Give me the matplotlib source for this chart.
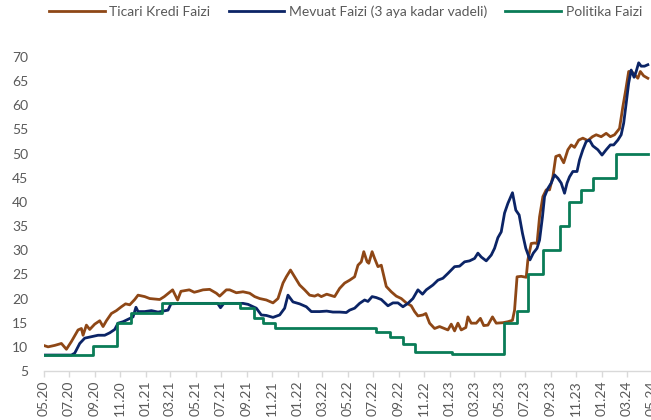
import matplotlib
matplotlib.use("Agg")
import matplotlib.pyplot as plt
import matplotlib.dates as mdates
import pandas as pd

plt.rcParams["font.family"] = ["Lato", "DejaVu Sans"]

# Ticari Kredi Faizi (brown)
kredi_dates = [
    "2020-05-01", "2020-05-12", "2020-05-28", "2020-06-13", "2020-06-25", "2020-07-07",
    "2020-07-23", "2020-07-31", "2020-08-04", "2020-08-12", "2020-08-20", "2020-09-01",
    "2020-09-13", "2020-09-21", "2020-09-29", "2020-10-11", "2020-10-23", "2020-11-04",
    "2020-11-14", "2020-11-24", "2020-12-06", "2020-12-14", "2020-12-30", "2021-01-11",
    "2021-02-04", "2021-02-15", "2021-03-07", "2021-03-19", "2021-03-27", "2021-04-16",
    "2021-04-28", "2021-05-07", "2021-05-19", "2021-06-04", "2021-06-20", "2021-06-28",
    "2021-07-14", "2021-07-22", "2021-08-07", "2021-08-23", "2021-09-08", "2021-09-20",
    "2021-10-02", "2021-10-18", "2021-11-03", "2021-11-15", "2021-11-27", "2021-12-05",
    "2021-12-15", "2021-12-25", "2022-01-06", "2022-01-18", "2022-01-30", "2022-02-11",
    "2022-02-19", "2022-02-27", "2022-03-12", "2022-03-31", "2022-04-12", "2022-04-24",
    "2022-05-06", "2022-05-18", "2022-05-26", "2022-06-03", "2022-06-09", "2022-06-17",
    "2022-06-21", "2022-06-29", "2022-07-05", "2022-07-13", "2022-07-21", "2022-08-02",
    "2022-08-14", "2022-08-26", "2022-09-07", "2022-09-19", "2022-10-01", "2022-10-09",
    "2022-10-17", "2022-10-29", "2022-11-05", "2022-11-14", "2022-11-26", "2022-12-08",
    "2022-12-28", "2023-01-05", "2023-01-13", "2023-01-21", "2023-01-29", "2023-02-09",
    "2023-02-14", "2023-02-22", "2023-03-06", "2023-03-16", "2023-03-24", "2023-04-03",
    "2023-04-14", "2023-04-23", "2023-05-09", "2023-05-21", "2023-06-01", "2023-06-06",
    "2023-06-12", "2023-06-22", "2023-07-04", "2023-07-08", "2023-07-16", "2023-07-24",
    "2023-07-30", "2023-08-05", "2023-08-13", "2023-08-21", "2023-08-29", "2023-09-06",
    "2023-09-13", "2023-09-22", "2023-10-02", "2023-10-12", "2023-10-20", "2023-10-28",
    "2023-11-07", "2023-11-17", "2023-11-29", "2023-12-10", "2023-12-19", "2023-12-31",
    "2024-01-12", "2024-01-22", "2024-02-01", "2024-02-13", "2024-02-21", "2024-02-28",
    "2024-03-06", "2024-03-13", "2024-03-20", "2024-03-28", "2024-04-03", "2024-04-11",
    "2024-04-21",
]
kredi = [
    10.3, 10.0, 10.3, 10.7, 9.5, 11.1,
    13.5, 13.8, 12.4, 14.5, 13.6, 14.7,
    15.4, 14.2, 15.4, 16.9, 17.5, 18.3,
    18.9, 18.7, 19.8, 20.7, 20.4, 20.0,
    19.8, 20.4, 21.8, 19.7, 21.5, 21.8,
    21.3, 21.5, 21.8, 21.9, 21.1, 20.5,
    21.8, 21.8, 21.2, 21.4, 21.1, 20.4,
    20.0, 19.7, 19.1, 20.0, 23.2, 24.5,
    25.9, 24.5, 22.8, 21.8, 20.7, 20.5,
    20.8, 20.4, 20.9, 20.4, 22.1, 23.2,
    23.8, 24.5, 26.9, 27.6, 29.7, 27.6,
    27.3, 29.7, 28.3, 26.6, 26.9, 22.5,
    21.4, 20.5, 20.0, 19.1, 18.5, 17.3,
    16.4, 16.6, 16.9, 14.9, 13.8, 14.2,
    13.5, 14.7, 13.3, 14.9, 13.5, 14.0,
    16.2, 14.9, 14.9, 15.9, 14.4, 14.5,
    16.2, 14.9, 15.0, 15.2, 15.5, 17.6,
    24.5, 24.6, 24.4, 28.0, 31.4, 31.5,
    31.4, 36.9, 41.1, 42.5, 42.5, 45.2,
    49.4, 49.7, 48.1, 50.8, 51.8, 51.3,
    52.8, 53.2, 52.7, 53.5, 53.9, 53.5,
    54.2, 53.5, 53.9, 55.2, 59.7, 63.2,
    67.0, 67.0, 66.4, 65.6, 67.0, 66.1,
    65.6,
]

# Mevduat Faizi (navy)
mevduat_dates = [
    "2020-05-01", "2020-06-05", "2020-07-07", "2020-07-15", "2020-07-27", "2020-08-08",
    "2020-08-24", "2020-09-09", "2020-09-25", "2020-10-07", "2020-10-19", "2020-10-27",
    "2020-11-08", "2020-11-20", "2020-12-02", "2020-12-09", "2020-12-14", "2020-12-30",
    "2021-01-15", "2021-01-31", "2021-02-24", "2021-03-03", "2021-03-27", "2021-05-07",
    "2021-06-04", "2021-06-23", "2021-06-30", "2021-07-08", "2021-08-23", "2021-09-04",
    "2021-09-24", "2021-10-06", "2021-10-18", "2021-11-03", "2021-11-19", "2021-12-01",
    "2021-12-09", "2021-12-21", "2022-01-06", "2022-01-22", "2022-02-03", "2022-02-23",
    "2022-03-12", "2022-03-27", "2022-04-12", "2022-04-28", "2022-05-06", "2022-05-18",
    "2022-05-30", "2022-06-11", "2022-06-19", "2022-06-29", "2022-07-09", "2022-07-21",
    "2022-08-06", "2022-08-18", "2022-08-30", "2022-09-11", "2022-09-23", "2022-10-05",
    "2022-10-17", "2022-10-28", "2022-11-06", "2022-11-22", "2022-12-04", "2022-12-16",
    "2022-12-28", "2023-01-13", "2023-01-25", "2023-02-06", "2023-02-18", "2023-03-02",
    "2023-03-10", "2023-03-18", "2023-03-30", "2023-04-11", "2023-04-19", "2023-04-27",
    "2023-05-05", "2023-05-13", "2023-05-21", "2023-06-01", "2023-06-09", "2023-06-17",
    "2023-06-25", "2023-07-03", "2023-07-13", "2023-07-21", "2023-07-30", "2023-08-05",
    "2023-08-12", "2023-08-17", "2023-08-25", "2023-09-02", "2023-09-10", "2023-09-18",
    "2023-09-26", "2023-10-04", "2023-10-10", "2023-10-16", "2023-10-24", "2023-11-03",
    "2023-11-09", "2023-11-17", "2023-11-25", "2023-12-03", "2023-12-11", "2023-12-23",
    "2024-01-02", "2024-01-12", "2024-01-22", "2024-01-30", "2024-02-09", "2024-02-17",
    "2024-02-23", "2024-02-29", "2024-03-06", "2024-03-12", "2024-03-19", "2024-03-24",
    "2024-03-30", "2024-04-05", "2024-04-13", "2024-04-21",
]
mevduat = [
    8.3, 8.3, 8.3, 8.7, 10.7, 11.8,
    12.1, 12.4, 12.4, 12.9, 13.6, 14.9,
    15.2, 15.7, 16.2, 18.2, 17.3, 17.3,
    17.5, 17.2, 17.6, 18.9, 19.0, 19.0,
    19.0, 19.0, 18.1, 19.0, 19.0, 18.8,
    18.0, 16.6, 16.5, 16.1, 16.6, 18.0,
    20.7, 19.3, 18.9, 18.3, 17.3, 17.3,
    17.4, 17.2, 17.2, 17.1, 17.6, 18.0,
    19.0, 19.7, 19.4, 20.4, 20.2, 19.8,
    18.5, 19.1, 19.1, 18.3, 19.0, 20.0,
    21.8, 20.9, 21.8, 22.8, 23.8, 24.2,
    25.2, 26.6, 26.7, 27.6, 27.8, 28.3,
    29.4, 28.6, 27.8, 29.0, 30.4, 32.6,
    33.8, 37.7, 39.7, 41.9, 38.3, 37.3,
    33.5, 30.4, 28.0, 29.4, 30.4, 32.1,
    36.9, 41.1, 42.8, 43.9, 45.6, 44.9,
    43.9, 41.8, 43.9, 45.2, 46.3, 46.3,
    48.7, 50.8, 52.5, 52.8, 51.6, 50.8,
    49.7, 50.8, 51.8, 51.8, 52.8, 53.9,
    56.3, 60.4, 64.6, 67.3, 65.8, 67.0,
    68.8, 68.1, 68.1, 68.4,
]

# Politika Faizi (green), value valid from each date on
politika_dates = [
    "2020-05-01", "2020-08-27", "2020-10-25", "2020-11-27", "2021-02-09", "2021-08-15",
    "2021-09-18", "2021-10-10", "2021-11-07", "2022-07-09", "2022-08-10", "2022-09-11",
    "2022-10-09", "2023-01-07", "2023-05-11", "2023-06-12", "2023-07-08", "2023-08-13",
    "2023-09-22", "2023-10-14", "2023-11-13", "2023-12-11", "2024-02-05", "2024-04-21",
]
politika = [
    8.25, 10.25, 15.0, 17.0, 19.0, 18.0,
    16.0, 15.0, 14.0, 13.0, 12.0, 10.5,
    9.0, 8.5, 15.0, 17.5, 25.0, 30.0,
    35.0, 40.0, 42.5, 45.0, 50.0, 50.0,
]

BROWN = "#8E4716"
NAVY = "#0B2466"
GREEN = "#0A7C57"
TEXT = "#595959"

fig = plt.figure(figsize=(6.51, 4.2), dpi=100)
ax = fig.add_axes([43.5 / 651, 49 / 420, 608.5 / 651, 314 / 420])

ax.plot(pd.to_datetime(kredi_dates), kredi, color=BROWN, lw=2.0, label="Ticari Kredi Faizi")
ax.plot(pd.to_datetime(mevduat_dates), mevduat, color=NAVY, lw=2.0,
        label="Mevuat Faizi (3 aya kadar vadeli)")
ax.plot(pd.to_datetime(politika_dates), politika, color=GREEN, lw=2.0,
        drawstyle="steps-post", label="Politika Faizi")

ax.set_xlim(pd.Timestamp("2020-05-01"), pd.Timestamp("2024-05-01"))
ax.set_ylim(5, 70)
ax.set_yticks(range(5, 71, 5))
ax.xaxis.set_major_locator(mdates.MonthLocator(bymonth=[1, 3, 5, 7, 9, 11]))
ax.xaxis.set_major_formatter(mdates.DateFormatter("%m.%y"))

for s in ["top", "right", "left"]:
    ax.spines[s].set_visible(False)
ax.spines["bottom"].set_color("#D9D9D9")
ax.spines["bottom"].set_linewidth(1.0)
ax.tick_params(axis="y", length=0, pad=11, labelsize=10, labelcolor=TEXT)
ax.tick_params(axis="x", length=4, color="#D9D9D9", width=1.0, pad=3,
               labelsize=10, labelcolor=TEXT, labelrotation=90)

fig.legend(loc="center left", bbox_to_anchor=(42 / 651, 1 - 12 / 420), ncol=3,
           frameon=False, fontsize=10, handlelength=4.0, handletextpad=0.35,
           columnspacing=1.3, borderpad=0, labelcolor=TEXT)

fig.savefig("out.png", dpi=100)
